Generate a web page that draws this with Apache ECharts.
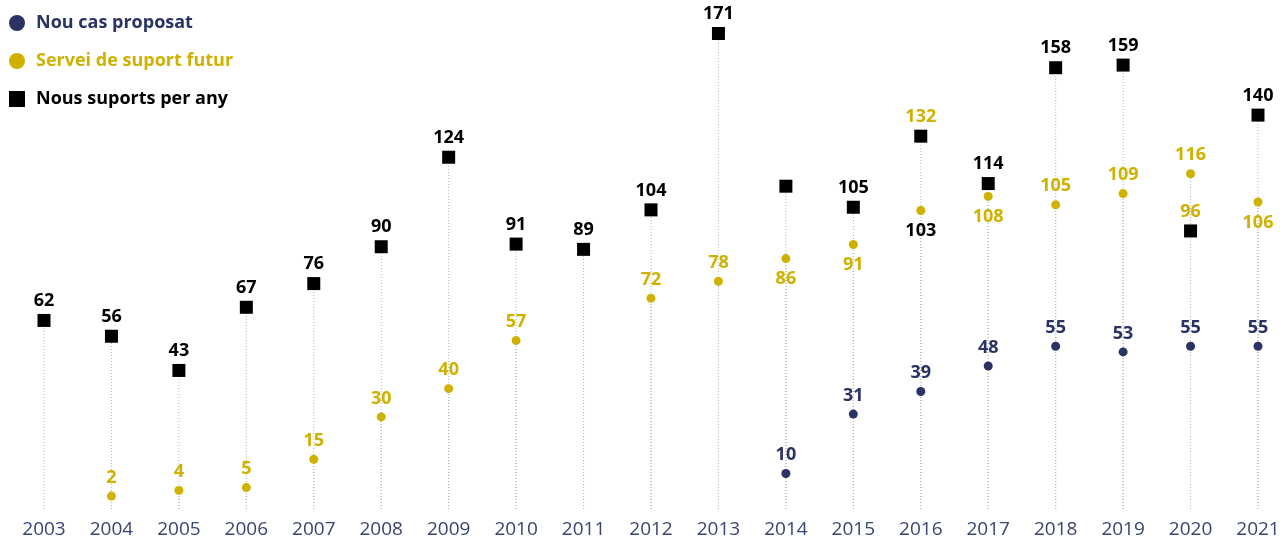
<!DOCTYPE html>
<html>
<head>
    <meta charset="UTF-8">
    <title>Suports per any</title>
    <script src="https://cdn.jsdelivr.net/npm/echarts@6/dist/echarts.min.js"></script>
    <style>
        body { margin: 0; padding: 0; background: #fff; }
        #main { width: 1284px; height: 539px; }
    </style>
</head>
<body>
<div id="main"></div>
<script>
    // dades llegides del gràfic
    var years = ['2003', '2004', '2005', '2006', '2007', '2008', '2009', '2010', '2011', '2012',
                 '2013', '2014', '2015', '2016', '2017', '2018', '2019', '2020', '2021'];
    var nouCas = [null, null, null, null, null, null, null, null, null, null,
                  null, 10, 31, 39, 48, 55, 53, 55, 55];
    var serveiFutur = [null, 2, 4, 5, 15, 30, 40, 57, null, 72,
                       78, 86, 91, 103, 108, 105, 109, 116, 106];
    var nousSuports = [62, 56, 43, 67, 76, 90, 124, 91, 89, 104,
                       171, 113, 105, 132, 114, 158, 159, 96, 140];

    var BLUE = '#2b3264', YELLOW = '#cfb100', BLACK = '#000000';
    var FONT = '"Open Sans", "Noto Sans", sans-serif';

    // etiquetes del groc que van a sota del punt
    var yellowBelow = ['2014', '2015', '2016', '2017', '2021'];

    var blueData = nouCas.map(function (v) { return v; });
    var yellowData = serveiFutur.map(function (v, i) {
        if (v == null) return v;
        var item = { value: v };
        if (yellowBelow.indexOf(years[i]) >= 0) item.label = { position: 'bottom', distance: 7 };
        if (years[i] == '2016') item.label = { position: 'bottom', distance: 7, color: BLACK };
        return item;
    });
    var blackData = nousSuports.map(function (v, i) {
        var item = { value: v };
        if (years[i] == '2014') item.label = { show: false };
        if (years[i] == '2016' || years[i] == '2020') item.label = { color: YELLOW };
        return item;
    });

    // línies puntejades: fins al punt més alt de cada any
    var dotTop = serveiFutur.map(function (v, i) {
        var b = nouCas[i];
        if (v == null && b == null) return [i, null];
        return [i, Math.max(v == null ? 0 : v, b == null ? 0 : b)];
    });
    var blackTop = nousSuports.map(function (v, i) { return [i, v]; });

    function stemItem(params, api) {
        var v = api.value(1);
        if (v == null || isNaN(v)) return;
        var p = api.coord([api.value(0), v]);
        var bottom = params.coordSys.y + params.coordSys.height;
        return {
            type: 'line',
            shape: { x1: p[0], y1: bottom, x2: p[0], y2: p[1] },
            style: { stroke: '#b4b4b4', lineWidth: 1, lineDash: [1, 2] }
        };
    }

    var chart = echarts.init(document.getElementById('main'), null, { renderer: 'canvas' });
    var labelBase = { show: true, position: 'top', distance: 5, fontFamily: FONT, fontWeight: 'bold', fontSize: 18 };

    chart.setOption({
        animation: false,
        textStyle: { fontFamily: FONT },
        legend: {
            orient: 'vertical',
            left: 4,
            top: 9,
            itemWidth: 16,
            itemHeight: 16,
            itemGap: 20,
            textStyle: { fontSize: 18, fontWeight: 'bold', padding: [0, 0, 0, 6] },
            data: [
                { name: 'Nou cas proposat', icon: 'circle', textStyle: { color: BLUE } },
                { name: 'Servei de suport futur', icon: 'circle', textStyle: { color: YELLOW } },
                { name: 'Nous suports per any', icon: 'rect', textStyle: { color: BLACK } }
            ]
        },
        grid: { left: 44, right: 26, top: 30, bottom: 27 },
        xAxis: {
            type: 'category',
            data: years,
            boundaryGap: false,
            axisLine: { show: false },
            axisTick: { show: false },
            axisLabel: { color: '#3a4470', fontSize: 19, margin: 11, fontFamily: FONT }
        },
        yAxis: [
            { type: 'value', min: -2.57, max: 166.85, show: false, splitLine: { show: false } },
            { type: 'value', min: -9.63, max: 172.33, show: false, splitLine: { show: false } }
        ],
        series: [
            {
                type: 'custom', yAxisIndex: 0, silent: true, z: 1,
                renderItem: stemItem, encode: { x: 0, y: 1 }, data: dotTop
            },
            {
                type: 'custom', yAxisIndex: 1, silent: true, z: 1,
                renderItem: stemItem, encode: { x: 0, y: 1 }, data: blackTop
            },
            {
                name: 'Nou cas proposat', type: 'scatter', yAxisIndex: 0, z: 3,
                symbol: 'circle', symbolSize: 9,
                itemStyle: { color: BLUE, opacity: 1 },
                label: Object.assign({}, labelBase, { color: BLUE }),
                data: blueData
            },
            {
                name: 'Servei de suport futur', type: 'scatter', yAxisIndex: 0, z: 3,
                symbol: 'circle', symbolSize: 9,
                itemStyle: { color: YELLOW, opacity: 1 },
                label: Object.assign({}, labelBase, { color: YELLOW }),
                data: yellowData
            },
            {
                name: 'Nous suports per any', type: 'scatter', yAxisIndex: 1, z: 3,
                symbol: 'rect', symbolSize: 13,
                itemStyle: { color: BLACK, opacity: 1 },
                label: Object.assign({}, labelBase, { color: BLACK, distance: 4 }),
                data: blackData
            }
        ]
    });
</script>
</body>
</html>
